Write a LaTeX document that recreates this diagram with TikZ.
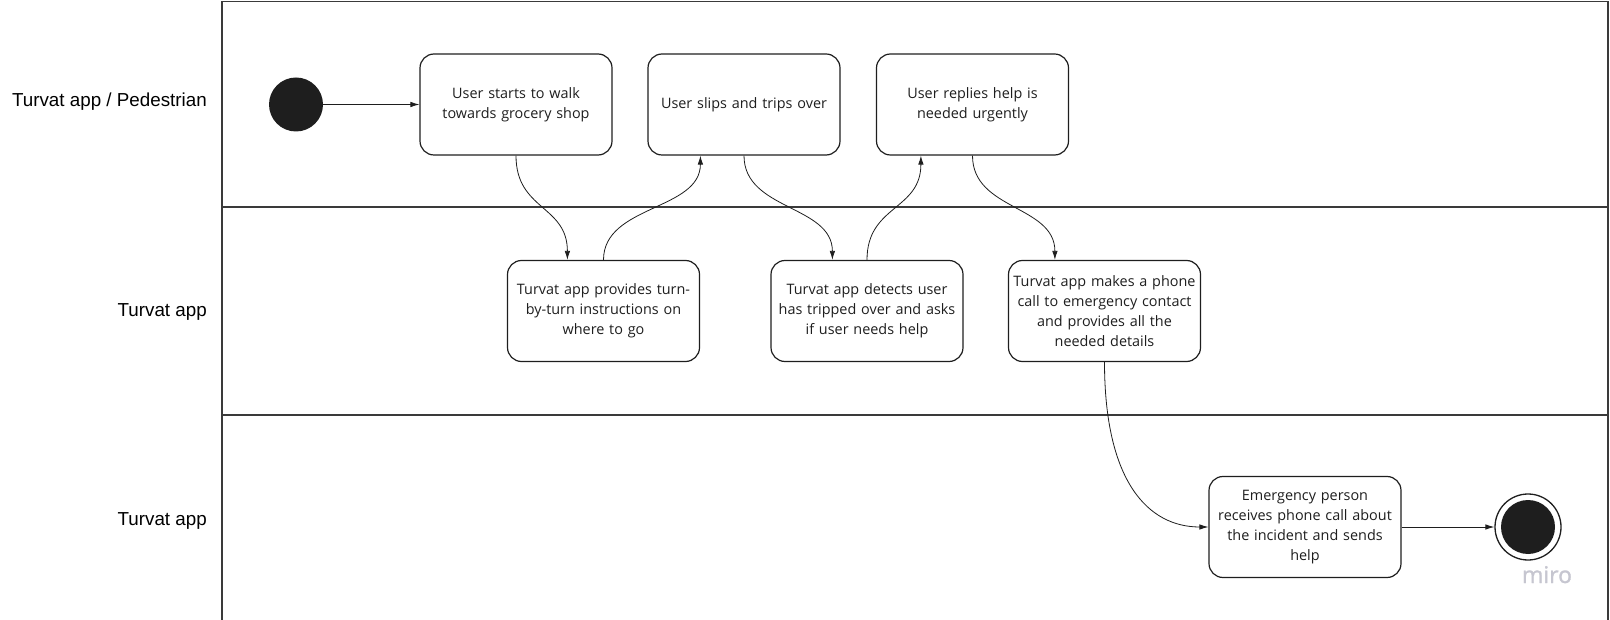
\documentclass[tikz,border=0pt]{standalone}
\usepackage{fontspec}
\setmainfont{Liberation Sans}
\newfontfamily\boxfont{Open Sans}
\newfontfamily\mirofont[FakeBold=1.3]{Open Sans}
\usetikzlibrary{arrows.meta,calc}
\definecolor{framecol}{HTML}{3A3A3A}
\definecolor{inkcol}{HTML}{1E1E1E}
\definecolor{mirocol}{HTML}{C6C6D0}
\tikzset{
  lanelabel/.style={anchor=base east, inner sep=0pt, font=\fontsize{18.8}{22}\selectfont, text=black},
  activity/.style={draw=inkcol, line width=1.2pt, rounded corners=14pt, minimum width=192pt, minimum height=101pt, text width=186pt, inner sep=0pt, align=center, font=\boxfont\fontsize{14.4}{20}\selectfont, text=inkcol},
  startdot/.style={circle, fill=inkcol, minimum size=54pt, inner sep=0pt},
  flow/.style={draw=inkcol, line width=0.8pt, -{Latex[length=9pt,width=5.5pt]}},
  divider/.style={draw=framecol, line width=2.8pt},
  frameline/.style={draw=framecol, line width=1.4pt}
}
\begin{document}
\begin{tikzpicture}[x=1pt,y=-1pt]
\useasboundingbox (0,0) rectangle (1610,620);
% frame and lanes
\draw[frameline] (222,620) -- (222,1.5) -- (1608,1.5) -- (1608,620);
\draw[divider] (222,207) -- (1608,207);
\draw[divider] (222,415) -- (1608,415);
% lane labels
\node[lanelabel] (l1) at (207,107) {Turvat app / Pedestrian};
\node[lanelabel] (l2) at (207,317) {Turvat app};
\node[lanelabel] (l3) at (207,525) {Turvat app};
% start / end
\node[startdot] (start) at (296,104.5) {};
\node[circle, draw=inkcol, line width=1.3pt, minimum size=66pt, inner sep=0pt] (end) at (1528,527) {};
\node[circle, fill=inkcol, minimum size=54pt, inner sep=0pt] (endin) at (1528,527) {};
% activities
\node[activity] (A) at (516,104.5) {User starts to walk\\towards grocery shop};
\node[activity] (B) at (744,104.5) {User slips and trips over};
\node[activity] (C) at (972.5,104.5) {User replies help is\\needed urgently};
\node[activity] (D) at (603.5,311) {Turvat app provides turn-\\by-turn instructions on\\where to go};
\node[activity] (E) at (867,311) {Turvat app detects user\\has tripped over and asks\\if user needs help};
\node[activity] (F) at (1104.5,311) {Turvat app makes a phone\\call to emergency contact\\and provides all the\\needed details};
\node[activity] (G) at (1305,527) {Emergency person\\receives phone call about\\the incident and sends\\help};
% watermark
\node[anchor=base, inner sep=0pt, text=mirocol, font=\mirofont\fontsize{23}{28}\selectfont] (miro) at (1547,583) {miro};
% connectors
\coordinate (Dt) at ($(D.north west)+(60.5,0)$);
\coordinate (Bb) at ($(B.south west)+(53,0)$);
\coordinate (Et) at ($(E.north west)+(62,0)$);
\coordinate (Cb) at ($(C.south west)+(45,0)$);
\coordinate (Ft) at ($(F.north west)+(47,0)$);
\draw[flow] (start.east) -- (A.west);
\draw[flow] (A.south) .. controls +(0,55) and +(0,-55) .. (Dt);
\draw[flow] (D.north) .. controls +(0,-55) and +(0,55) .. (Bb);
\draw[flow] (B.south) .. controls +(0,55) and +(0,-55) .. (Et);
\draw[flow] (E.north) .. controls +(0,-55) and +(0,55) .. (Cb);
\draw[flow] (C.south) .. controls +(0,55) and +(0,-55) .. (Ft);
\draw[flow] (F.south) .. controls +(0,120) and +(-60,0) .. (G.west);
\draw[flow] (G.east) -- (end.west);
\end{tikzpicture}
\end{document}
